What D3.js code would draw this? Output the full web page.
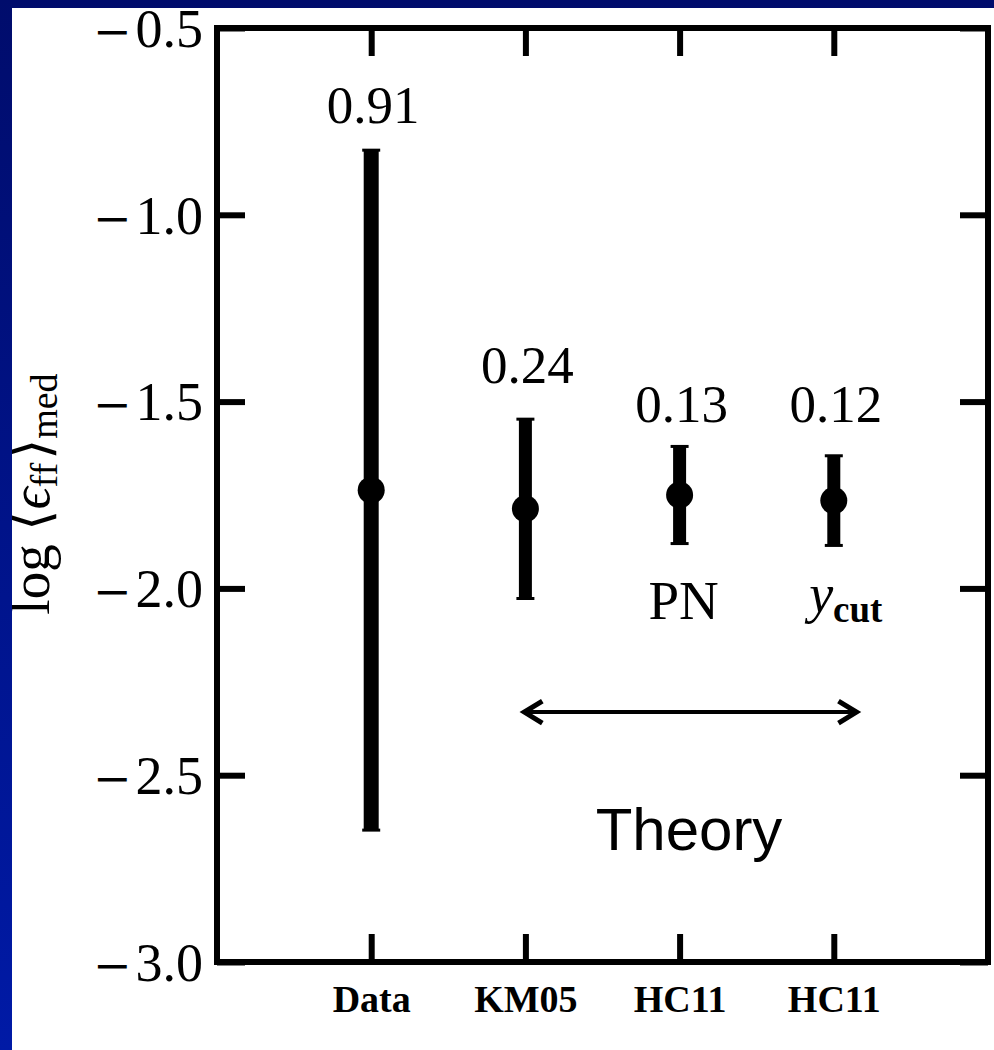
<!DOCTYPE html>
<html>
<head>
<meta charset="utf-8">
<script src="https://cdn.jsdelivr.net/npm/d3@7"></script>
<style>
  body { margin: 0; padding: 0; background: #000c6e; }
  svg { display: block; }
</style>
</head>
<body>
<script>
// Data (log units)
const categories = ["Data", "KM05", "HC11", "HC11"];
const medians = [-1.737, -1.787, -1.750, -1.765];
const halfWidths = [0.91, 0.24, 0.13, 0.12];
const spreadLabels = ["0.91", "0.24", "0.13", "0.12"];
const spreadLabelY = [-0.754, -1.450, -1.555, -1.555];
const yTicks = [-0.5, -1.0, -1.5, -2.0, -2.5, -3.0];
const theoryRange = [1.98, 4.16];
const theoryY = -2.331;

const width = 994, height = 1050;
const frame = { left: 217, right: 988, top: 28, bottom: 962 };

const svg = d3.select("body").append("svg")
  .attr("width", width)
  .attr("height", height);

// blue slide background
const defs = svg.append("defs");
const grad = defs.append("linearGradient")
  .attr("id", "bg")
  .attr("gradientUnits", "userSpaceOnUse")
  .attr("x1", 0).attr("y1", 0).attr("x2", 0).attr("y2", height);
grad.append("stop").attr("offset", "0%").attr("stop-color", "#000c6c");
grad.append("stop").attr("offset", "100%").attr("stop-color", "#001aa6");

svg.append("rect").attr("width", width).attr("height", height).attr("fill", "url(#bg)");
svg.append("rect")
  .attr("x", 12).attr("y", 8)
  .attr("width", width - 12).attr("height", height - 8)
  .attr("fill", "#ffffff");

const x = d3.scaleLinear().domain([0, 5]).range([frame.left, frame.right]);
const y = d3.scaleLinear().domain([-3, -0.5]).range([frame.bottom, frame.top]);

const serif = "'Liberation Serif', 'Times New Roman', serif";

// axes with inward ticks
const left = svg.append("g")
  .attr("transform", `translate(${frame.left},0)`)
  .call(d3.axisLeft(y).tickValues(yTicks).tickSize(-28).tickPadding(14));

left.selectAll("text")
  .style("font-family", serif)
  .style("font-size", "54px")
  .attr("fill", "#000")
  .attr("dy", "0.34em")
  .each(function (d) {
    const t = d3.select(this).text("");
    t.append("tspan").style("font-family", "'DejaVu Serif', serif").style("font-size", "46px").text("\u2212");
    t.append("tspan").attr("dx", 4).text(d3.format(".1f")(Math.abs(d)));
  });

svg.append("g")
  .attr("transform", `translate(${frame.right},0)`)
  .call(d3.axisRight(y).tickValues(yTicks).tickSize(-28).tickFormat(""));

svg.append("g")
  .attr("transform", `translate(0,${frame.top})`)
  .call(d3.axisTop(x).tickValues([1, 2, 3, 4]).tickSize(-28).tickFormat(""));

const bottom = svg.append("g")
  .attr("transform", `translate(0,${frame.bottom})`)
  .call(d3.axisBottom(x).tickValues([1, 2, 3, 4]).tickSize(-28)
    .tickFormat(i => categories[i - 1]));

bottom.selectAll("text")
  .attr("y", 50)
  .attr("dy", 0)
  .attr("fill", "#000")
  .style("font-family", serif)
  .style("font-weight", "bold")
  .style("font-size", "38px");

svg.selectAll(".domain").remove();
svg.selectAll(".tick line")
  .attr("stroke", "#000")
  .attr("stroke-width", 6);

// frame
svg.append("rect")
  .attr("x", frame.left).attr("y", frame.top)
  .attr("width", frame.right - frame.left)
  .attr("height", frame.bottom - frame.top)
  .attr("fill", "none")
  .attr("stroke", "#000")
  .attr("stroke-width", 6);

// error bars
const bars = svg.append("g");
medians.forEach((m, i) => {
  const cx = x(i + 1);
  const lo = m - halfWidths[i], hi = m + halfWidths[i];
  bars.append("line")
    .attr("x1", cx).attr("x2", cx)
    .attr("y1", y(hi)).attr("y2", y(lo))
    .attr("stroke", "#000")
    .attr("stroke-width", i === 0 ? 15 : 13);
  [lo, hi].forEach(v => {
    bars.append("line")
      .attr("x1", cx - 9).attr("x2", cx + 9)
      .attr("y1", y(v)).attr("y2", y(v))
      .attr("stroke", "#000")
      .attr("stroke-width", 3);
  });
  bars.append("circle")
    .attr("cx", cx).attr("cy", y(m))
    .attr("r", 13.5)
    .attr("fill", "#000");
  bars.append("text")
    .attr("x", cx + 2).attr("y", y(spreadLabelY[i]))
    .attr("text-anchor", "middle")
    .style("font-family", serif)
    .style("font-size", "53px")
    .text(spreadLabels[i]);
});

// PN and y_cut labels
svg.append("text")
  .attr("x", x(3) + 4).attr("y", 619)
  .attr("text-anchor", "middle")
  .style("font-family", serif)
  .style("font-size", "55px")
  .text("PN");

const ycut = svg.append("text")
  .attr("x", x(4) + 12).attr("y", 612)
  .attr("text-anchor", "middle")
  .style("font-family", serif)
  .style("font-size", "54px");
ycut.append("tspan").style("font-style", "italic").text("y");
ycut.append("tspan").attr("dy", 10).style("font-size", "37px").style("font-weight", "bold").text("cut");

// double arrow for Theory
const arrow = svg.append("g")
  .attr("stroke", "#000")
  .attr("fill", "none");
const ax1 = x(theoryRange[0]), ax2 = x(theoryRange[1]), ay = y(theoryY);
arrow.append("line")
  .attr("x1", ax1 + 2).attr("x2", ax2 - 2)
  .attr("y1", ay).attr("y2", ay)
  .attr("stroke-width", 4);
arrow.append("path")
  .attr("d", `M${ax1 + 20},${ay - 11} L${ax1 + 2},${ay} L${ax1 + 20},${ay + 11}`)
  .attr("stroke-width", 5);
arrow.append("path")
  .attr("d", `M${ax2 - 20},${ay - 11} L${ax2 - 2},${ay} L${ax2 - 20},${ay + 11}`)
  .attr("stroke-width", 5);

svg.append("text")
  .attr("x", 689).attr("y", 850)
  .attr("text-anchor", "middle")
  .style("font-family", "'Liberation Sans', Arial, sans-serif")
  .style("font-size", "60px")
  .text("Theory");

// y axis title: log <eps_ff>_med
const title = svg.append("text")
  .attr("transform", `translate(49,${494}) rotate(-90)`)
  .attr("text-anchor", "middle")
  .style("font-family", serif)
  .style("font-size", "55px");
title.append("tspan").text("log \u27E8");
title.append("tspan").style("font-style", "italic").text("\u03F5");
title.append("tspan").attr("dy", 8).style("font-size", "38px").text("ff");
title.append("tspan").attr("dy", -8).attr("dx", 3).text("\u27E9");
title.append("tspan").attr("dy", 8).style("font-size", "38px").text("med");

// top band of the slide covers the clipped -0.5 label
svg.append("rect")
  .attr("width", width).attr("height", 8)
  .attr("fill", "url(#bg)");
svg.append("rect")
  .attr("width", 12).attr("height", height)
  .attr("fill", "url(#bg)");
</script>
</body>
</html>
